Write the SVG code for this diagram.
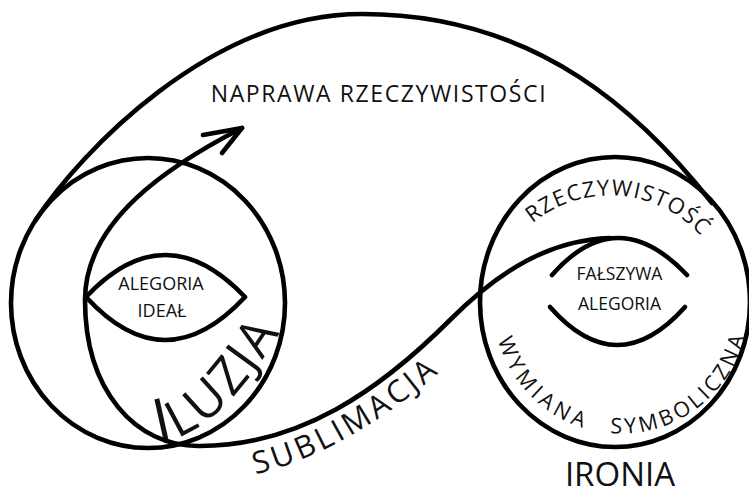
<svg xmlns="http://www.w3.org/2000/svg" width="749" height="493" viewBox="0 0 749 493">
<style>
.ln{fill:none;stroke:#000;stroke-width:4.6;stroke-linecap:round;stroke-linejoin:round}
text{font-family:"Open Sans","Liberation Sans",sans-serif;fill:#111}
.lbl{font-size:18px;text-anchor:middle}
</style>
<defs>
<path id="pIluzja" d="M158,442 C207.8,437.6 249.2,381.9 281,331"/>
<path id="pSub" d="M200,481 C300,481 403,411 473,341"/>
<path id="pRz" d="M521.3,233.5 A122.5,122.5 0 0 1 708.6,245.3"/>
<path id="pWym" d="M495.4,328.1 A127.5,127.5 0 0 0 748,317.1"/>
</defs>
<rect width="749" height="493" fill="#fff"/>

<g id="naprawa">
<path class="ln" d="M35.8,219.8 C80,153 210,14 362,14 C540,14 645,118 712,203"/>
<text x="379" y="102" font-size="23" letter-spacing="1.6" text-anchor="middle">NAPRAWA RZECZYWISTOŚCI</text>
</g>

<g id="iluzja">
<ellipse class="ln" cx="148" cy="303" rx="137" ry="145"/>
<text font-size="51" letter-spacing="2.6"><textPath href="#pIluzja"><tspan font-size="60">I</tspan>LUZJA</textPath></text>
</g>

<g id="alegoria-ideal">
<path class="ln" d="M86,297 Q165,213 245,297 Q165,383 86,297"/>
<text class="lbl" x="161" y="290">ALEGORIA</text>
<text class="lbl" x="162" y="317">IDEAŁ</text>
</g>

<g id="ironia">
<ellipse class="ln" cx="615" cy="302" rx="135" ry="145"/>
<text font-size="22" letter-spacing="1.3"><textPath href="#pRz" startOffset="15">RZECZYWISTOŚĆ</textPath></text>
<text font-size="21.5" letter-spacing="4.4"><textPath href="#pWym" startOffset="12">WYMIANA</textPath></text>
<text font-size="21.5" letter-spacing="3.3"><textPath href="#pWym" startOffset="167">SYMBOLICZNA</textPath></text>
<text x="620" y="486" font-size="33" text-anchor="middle">IRONIA</text>
</g>

<g id="falszywa-alegoria">
<path class="ln" d="M552,275 Q617,201 687,275"/>
<path class="ln" d="M550,307 Q617,383 685,307"/>
<text x="619.5" y="280" font-size="17.5" text-anchor="middle">FAŁSZYWA</text>
<text x="619.5" y="310" font-size="17.5" text-anchor="middle">ALEGORIA</text>
</g>

<g id="connectors">
<path class="ln" d="M242,128 C170,165 85,220 85,300 C85,390 135,447 200,446 C300,446 380,390 450,320 C500,270 550,240 610,238"/>
<path class="ln" d="M203,135 L242,128 L222,153"/>
<text font-size="31" letter-spacing="3.5"><textPath href="#pSub" startOffset="56">SUBLIMACJA</textPath></text>
</g>
</svg>
